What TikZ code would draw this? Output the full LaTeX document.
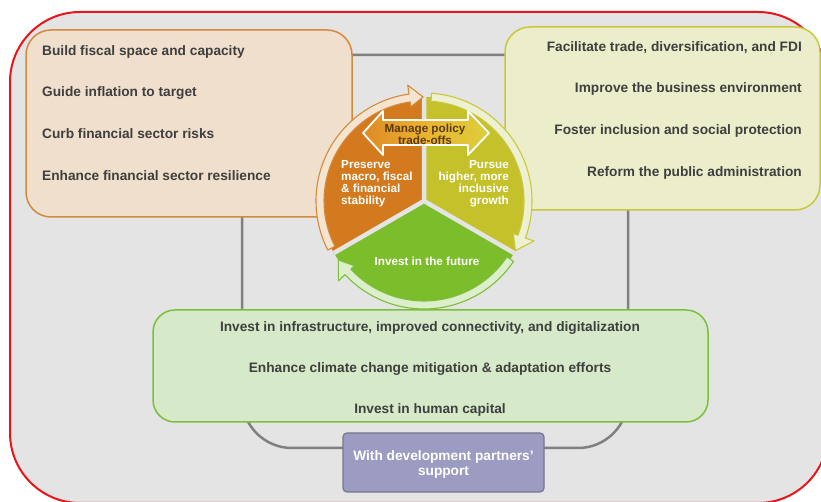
\documentclass[tikz,border=0pt]{standalone}
\usepackage{fontspec}
\setmainfont{Liberation Sans}

\definecolor{pagegray}{HTML}{E4E4E4}
\definecolor{edgered}{HTML}{E8161B}
\definecolor{linkgray}{HTML}{808080}
\definecolor{txtgray}{HTML}{3F3F3F}
\definecolor{stabfill}{HTML}{EFDFCC}
\definecolor{stabline}{HTML}{D48A3C}
\definecolor{stabsec}{HTML}{D37A1E}
\definecolor{stabband}{HTML}{F4E4D0}
\definecolor{growfill}{HTML}{ECEDCB}
\definecolor{growline}{HTML}{C9C83C}
\definecolor{growsec}{HTML}{C4C12A}
\definecolor{growband}{HTML}{EEF0D2}
\definecolor{futfill}{HTML}{D6E9C9}
\definecolor{futline}{HTML}{7DBE3D}
\definecolor{futsec}{HTML}{7BBD2A}
\definecolor{futband}{HTML}{DCEECC}
\definecolor{partfill}{HTML}{9C9CC3}
\definecolor{partline}{HTML}{76768F}
\definecolor{tradeleft}{HTML}{DE8A24}
\definecolor{trademid}{HTML}{EBB332}
\definecolor{traderight}{HTML}{DCCF3A}
\definecolor{tradetext}{HTML}{5A3C10}

\begin{document}
\begin{tikzpicture}[x=1pt, y=1pt,
  boxtext/.style={font=\fontsize{13.7}{15}\selectfont\bfseries, text=txtgray, inner sep=0pt},
  wheeltext/.style={font=\fontsize{11.7}{12}\selectfont\bfseries, text=white, inner sep=0pt},
  panel/.style={line width=1.5pt, rounded corners=25pt},
  band/.style={line width=1.1pt, line join=round}]

% Page and outer frame
\useasboundingbox (0,0) rectangle (821,502);
\clip (0,0) rectangle (821,502);
\draw[line width=2pt, draw=edgered, fill=pagegray, rounded corners=70pt] (10,490) rectangle (828,-1);

% Gray link running behind the boxes
\coordinate (linkSW) at (242,54);
\coordinate (linkNE) at (628,447);
\draw[line width=2.5pt, draw=linkgray, rounded corners=50pt] (linkSW) rectangle (linkNE);

% The three boxes and the partners box
\draw[panel, draw=stabline, fill=stabfill] (26,472) rectangle (352,285);
\draw[panel, draw=growline, fill=growfill] (505,475) rectangle (820,292);
\draw[panel, draw=futline, fill=futfill, rounded corners=22pt] (153,192) rectangle (708,80);
\draw[line width=1.2pt, draw=partline, fill=partfill, rounded corners=4pt] (343,69) rectangle (544,10);

% Box texts
\node[boxtext, anchor=base west] (fiscal) at (42,446) {Build fiscal space and capacity};
\node[boxtext, anchor=base west] (inflation) at (42,405) {Guide inflation to target};
\node[boxtext, anchor=base west] (risks) at (42,363) {Curb financial sector risks};
\node[boxtext, anchor=base west] (resilience) at (42,321) {Enhance financial sector resilience};

\node[boxtext, anchor=base east] (trade) at (802,450) {Facilitate trade, diversification, and FDI};
\node[boxtext, anchor=base east] (business) at (802,409) {Improve the business environment};
\node[boxtext, anchor=base east] (inclusion) at (802,367) {Foster inclusion and social protection};
\node[boxtext, anchor=base east] (admin) at (802,325) {Reform the public administration};

\node[boxtext, anchor=base] (infra) at (430,170) {Invest in infrastructure, improved connectivity, and digitalization};
\node[boxtext, anchor=base] (climate) at (430,129) {Enhance climate change mitigation \& adaptation efforts};
\node[boxtext, anchor=base] (human) at (430,88) {Invest in human capital};

\node[boxtext, text=white, align=center] (partners) at (443.5,38) {With development partners'\\support};

% Wheel: sectors and curved arrows
\begin{scope}[shift={(424,301)}]
\fill[stabsec] (0,0) -- (90:104) arc[start angle=90, end angle=210, radius=104] -- cycle;
\fill[growsec] (0,0) -- (-30:104) arc[start angle=-30, end angle=90, radius=104] -- cycle;
\fill[futsec] (0,0) -- (210:104) arc[start angle=210, end angle=330, radius=104] -- cycle;
\draw[pagegray, line width=4.5pt] (0,0) -- (90:104) (0,0) -- (210:104) (0,0) -- (-30:104);

\draw[band, draw=stabline, fill=stabband] (207:108) arc[start angle=207, end angle=98, radius=108]
  -- (98:117) -- (90.5:104) -- (98:95) -- (98:100) arc[start angle=98, end angle=207, radius=100] -- cycle;
\draw[band, draw=growline, fill=growband] (86:108) arc[start angle=86, end angle=-20, radius=108]
  -- (-20:117) -- (-28.5:104) -- (-20:95) -- (-20:100) arc[start angle=-20, end angle=86, radius=100] -- cycle;
\draw[band, draw=futline, fill=futband] (-34:108) arc[start angle=-34, end angle=-137, radius=108]
  -- (-137:117) -- (-145.5:104) -- (-137:95) -- (-137:100) arc[start angle=-137, end angle=-34, radius=100] -- cycle;
\end{scope}

% Double arrow for the trade-offs
\shadedraw[left color=tradeleft, right color=traderight, middle color=trademid, draw=white, line width=1.8pt, line join=round]
  (363,369) -- (383,391) -- (383,382) -- (468,382) -- (468,391) -- (489,369) -- (468,347) -- (468,357)
  -- (383,357) -- (383,347) -- cycle;
\node[wheeltext, text=tradetext, align=center] (tradeoffs) at (425,367.3) {Manage policy\\trade-offs};

% Wheel texts
\node[wheeltext, align=left, anchor=west] (preserve) at (341,318) {Preserve\\macro, fiscal\\\& financial\\stability};
\node[wheeltext, align=right, anchor=east] (pursue) at (509,318) {Pursue\\higher, more\\inclusive\\growth};
\node[wheeltext, anchor=base] (future) at (427,236) {Invest in the future};
\end{tikzpicture}
\end{document}
